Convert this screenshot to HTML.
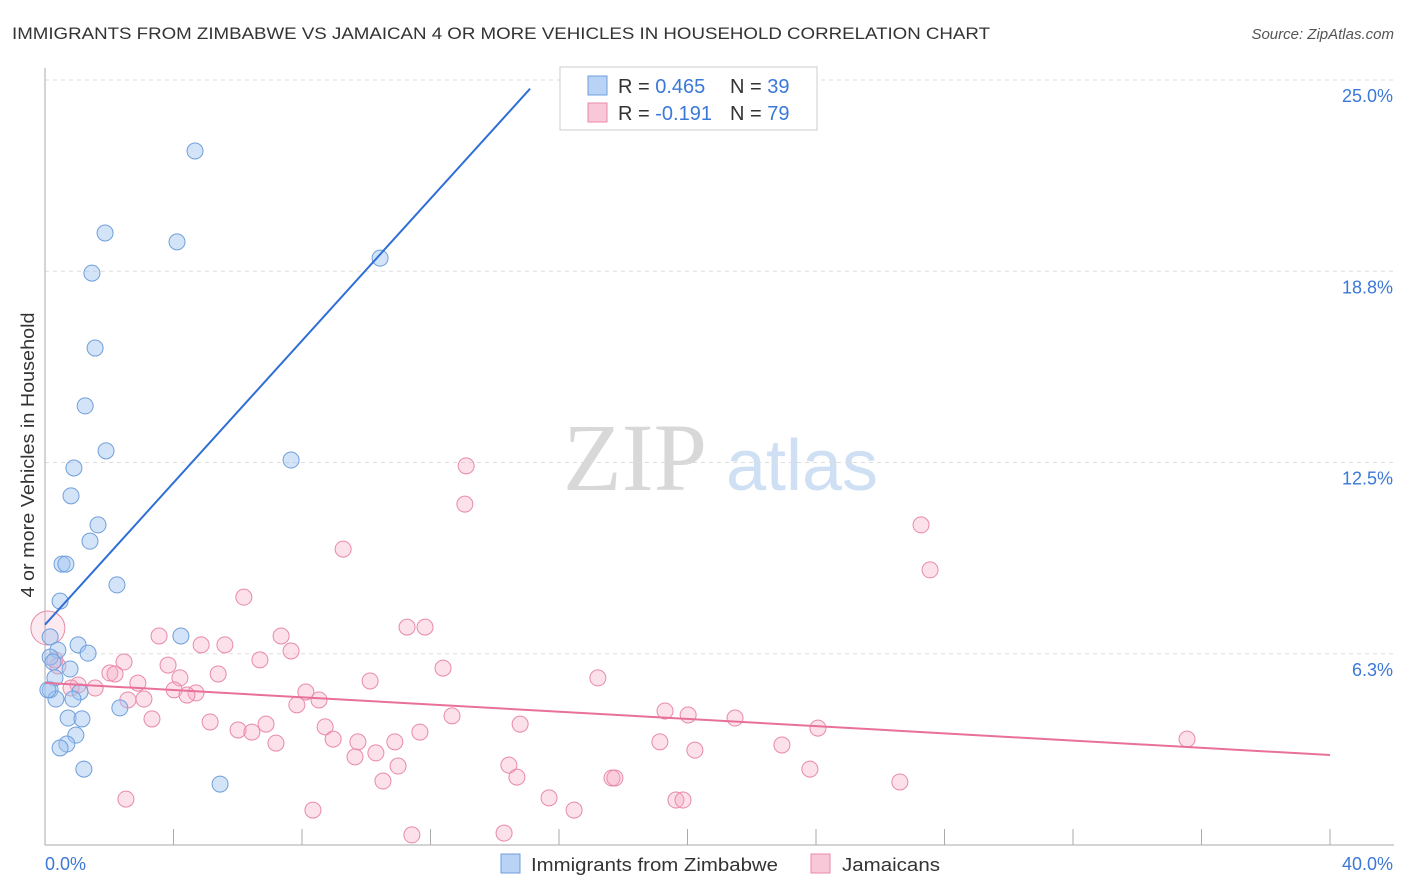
<!DOCTYPE html>
<html><head><meta charset="utf-8">
<style>
body{margin:0;background:#fff;font-family:"Liberation Sans",sans-serif;}
svg{display:block}
</style></head>
<body>
<svg id="chart" width="1406" height="892">
<text x="12" y="39" font-size="17" fill="#333" textLength="978" lengthAdjust="spacingAndGlyphs">IMMIGRANTS FROM ZIMBABWE VS JAMAICAN 4 OR MORE VEHICLES IN HOUSEHOLD CORRELATION CHART</text>
<text x="1394" y="39" font-size="15" fill="#555" font-style="italic" text-anchor="end">Source: ZipAtlas.com</text>
<text transform="translate(34,455) rotate(-90)" font-size="18" fill="#333" text-anchor="middle" textLength="285" lengthAdjust="spacingAndGlyphs">4 or more Vehicles in Household</text>
<g>
<text x="635" y="490" font-size="96" fill="#d8d8d8" font-family="Liberation Serif,serif" text-anchor="middle">ZIP</text>
<text x="802" y="490" font-size="72" fill="#cfe0f5" text-anchor="middle">atlas</text>
</g>
<g id="grid"></g>
<g id="axes"></g>
<g id="pts"></g>
<g id="lines"></g>
<g>
<rect x="560" y="67" width="257" height="63" fill="#fff" stroke="#ccc"/>
<rect x="588" y="76" width="19" height="19" fill="#b8d3f5" stroke="#6f9fdc"/>
<rect x="588" y="103" width="19" height="19" fill="#f9c8d8" stroke="#e88aa8"/>
<text x="618" y="93" font-size="20" fill="#333">R = <tspan fill="#3b78d8">0.465</tspan></text>
<text x="730" y="93" font-size="20" fill="#333">N = <tspan fill="#3b78d8">39</tspan></text>
<text x="618" y="120" font-size="20" fill="#333">R = <tspan fill="#3b78d8">-0.191</tspan></text>
<text x="730" y="120" font-size="20" fill="#333">N = <tspan fill="#3b78d8">79</tspan></text>
</g>
<g>
<rect x="501" y="854" width="19" height="19" fill="#b8d3f5" stroke="#6f9fdc"/>
<text x="531" y="871" font-size="18" fill="#333" textLength="247" lengthAdjust="spacingAndGlyphs">Immigrants from Zimbabwe</text>
<rect x="811" y="854" width="19" height="19" fill="#f9c8d8" stroke="#e88aa8"/>
<text x="842" y="871" font-size="18" fill="#333" textLength="98" lengthAdjust="spacingAndGlyphs">Jamaicans</text>
</g>
</svg>
<script>
const xTicks=[0,4,8,12,16,20,24,28,32,36,40];
const yTicks=[6.25,12.5,18.75,25];
const yTickLabels=["6.3%","12.5%","18.8%","25.0%"];
const xEndLabels=["0.0%","40.0%"];
const blueX=[4.67,1.87,4.11,1.46,10.43,1.56,1.25,1.90,7.66,0.90,0.81,1.65,1.40,0.53,0.65,2.24,0.47,4.23,0.16,1.03,0.40,1.34,0.16,0.25,0.78,0.31,0.16,1.09,0.34,0.87,2.33,0.72,1.15,0.96,0.68,0.47,1.21,5.45,0.09];
const blueY=[22.68,20.0,19.71,18.69,19.18,16.24,14.35,12.88,12.58,12.32,11.41,10.46,9.93,9.18,9.18,8.50,7.97,6.83,6.80,6.54,6.37,6.27,6.14,5.98,5.75,5.46,5.07,5.00,4.77,4.77,4.48,4.15,4.12,3.59,3.30,3.17,2.48,1.99,5.07];
const pinkX=[13.11,13.07,9.28,27.27,27.55,6.19,11.27,11.83,3.55,7.35,4.86,5.60,7.66,2.46,6.69,12.39,3.83,0.40,2.02,2.18,5.39,4.20,10.12,17.21,2.89,1.03,1.56,4.02,4.70,4.42,8.12,0.81,7.84,8.53,2.58,3.08,19.30,20.02,12.67,21.48,3.33,5.14,14.79,8.72,6.88,24.06,6.01,6.44,11.67,8.97,9.74,10.89,19.14,22.94,7.19,35.55,20.23,10.30,9.65,14.44,10.99,23.81,14.69,10.52,17.65,17.74,26.61,2.52,15.69,19.64,19.86,16.47,8.34,11.42,14.29,0.09,0.31];
const pinkY=[12.39,11.14,9.67,10.46,8.99,8.10,7.12,7.12,6.83,6.83,6.54,6.54,6.34,5.98,6.05,5.78,5.88,5.85,5.62,5.59,5.59,5.46,5.36,5.46,5.29,5.23,5.13,5.07,4.97,4.90,5.00,5.13,4.58,4.74,4.74,4.77,4.38,4.25,4.22,4.15,4.12,4.02,3.95,3.86,3.95,3.82,3.76,3.69,3.69,3.46,3.37,3.37,3.37,3.27,3.33,3.46,3.10,3.01,2.88,2.61,2.58,2.48,2.22,2.09,2.19,2.19,2.06,1.50,1.54,1.47,1.47,1.14,1.14,0.33,0.39,7.09,6.05];
const blueTrend=[7.2,1.16,15.1]; // intercept, slope, xEnd
const pinkTrend=[5.3,-0.059,40];

const NS="http://www.w3.org/2000/svg";
const X=v=>45+v*32.125, Y=v=>845-v*30.6;
function mk(tag,attrs,parent){const e=document.createElementNS(NS,tag);for(const k in attrs)e.setAttribute(k,attrs[k]);parent.appendChild(e);return e;}
const grid=document.getElementById('grid'),axes=document.getElementById('axes'),pts=document.getElementById('pts'),lines=document.getElementById('lines');
yTicks.forEach((t,i)=>{
 const l=mk('line',{x1:45,x2:1394,y1:Y(t),y2:Y(t),stroke:'#ddd','stroke-dasharray':'4,4'},grid);
 
 
 const tx=mk('text',{x:1393,y:Y(t)+22,'font-size':18,fill:'#3b78d8','text-anchor':'end'},axes);
 tx.textContent=yTickLabels[i];
 
 
});
const ax=mk('line',{x1:45,x2:1394,y1:845,y2:845,stroke:'#aaa'},axes);


const ay=mk('line',{x1:45,x2:45,y1:68,y2:845,stroke:'#aaa'},axes);


xTicks.forEach(t=>{
 const l=mk('line',{x1:X(t),x2:X(t),y1:829,y2:845,stroke:'#aaa'},axes);
 
 
});
const xl0=mk('text',{x:45,y:870,'font-size':18,fill:'#3b78d8'},axes);xl0.textContent=xEndLabels[0];


const xl1=mk('text',{x:1393,y:870,'font-size':18,fill:'#3b78d8','text-anchor':'end'},axes);xl1.textContent=xEndLabels[1];


pinkX.forEach((v,i)=>{
 const big=i===pinkX.length-2;
 const c=mk('circle',{cx:X(v),cy:Y(pinkY[i]),r:big?17:8,fill:big?'rgba(245,170,195,0.25)':'rgba(245,170,195,0.35)',stroke:'#e88aa8','stroke-width':1},pts);
 
 
});
blueX.forEach((v,i)=>{
 const c=mk('circle',{cx:X(v),cy:Y(blueY[i]),r:8,fill:'rgba(160,195,240,0.45)',stroke:'#6f9fdc','stroke-width':1},pts);
 
 
});
const bl=mk('line',{x1:X(0),y1:Y(blueTrend[0]),x2:X(blueTrend[2]),y2:Y(blueTrend[0]+blueTrend[1]*blueTrend[2]),stroke:'#2f6fd6','stroke-width':2},lines);


const pl=mk('line',{x1:X(0),y1:Y(pinkTrend[0]),x2:X(pinkTrend[2]),y2:Y(pinkTrend[0]+pinkTrend[1]*pinkTrend[2]),stroke:'#e8709a','stroke-width':2},lines);


</script>
</body></html>
